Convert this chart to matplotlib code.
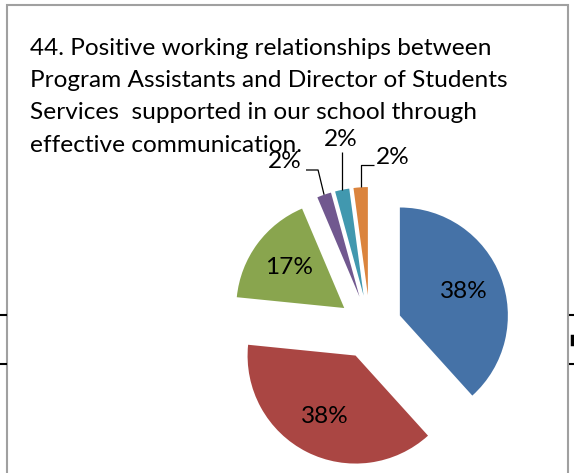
import matplotlib.pyplot as plt
import numpy as np
from matplotlib.patches import Rectangle

# chart text and data
title_lines = [
    "44. Positive working relationships between",
    "Program Assistants and Director of Students",
    "Services  supported in our school through",
    "effective communication.",
]
responses = [18, 18, 8, 1, 1, 1]
colors = ["#4572A7", "#AA4643", "#89A54E", "#71588F", "#4198AF", "#DB843D"]

W, H = 574, 473
plt.rcParams["font.family"] = ["Lato", "DejaVu Sans"]
FS = 17.6


def px(x, y):
    # screen pixel (y down) -> data coords (y up)
    return x, H - y


fig = plt.figure(figsize=(W / 100, H / 100), dpi=100)
ax = fig.add_axes([0, 0, 1, 1])

wedges, texts, autotexts = ax.pie(
    responses, colors=colors, startangle=90, counterclock=False,
    explode=[32] * len(responses), radius=108, center=px(370, 327),
    autopct="%1.0f%%", pctdistance=0.63,
    wedgeprops=dict(linewidth=0), textprops=dict(fontsize=FS, color="black"),
)

# small slices: labels outside with leader lines
small_pos = [(285, 161), (341, 140), (393, 158)]
for w, t, (lx, ly) in zip(wedges[3:], autotexts[3:], small_pos):
    t.set_position(px(lx, ly))
    th = np.deg2rad((w.theta1 + w.theta2) / 2)
    tip = (w.center[0] + w.r * np.cos(th), w.center[1] + w.r * np.sin(th))
    tx, ty = px(lx, ly)
    if tx < tip[0] - 15:
        pts = [(tx + 21, ty - 9), (tip[0] - 6, ty - 9), tip]
    elif tx > tip[0] + 15:
        pts = [(tx - 19, ty - 7), (tip[0], ty - 7), tip]
    else:
        pts = [(tip[0], ty - 12), tip]
    xs, ys = zip(*pts)
    ax.plot(xs, ys, color="black", lw=0.9, solid_capstyle="butt")

for i, line in enumerate(title_lines):
    ax.text(*px(30, 55 + i * 32.2), line, fontsize=FS, ha="left", va="baseline")

# chart frame and bits of the surrounding table
ax.add_patch(Rectangle(px(6.5, 480), 561, 475, fill=False,
                       edgecolor="#A0A0A0", lw=1.5))
for y in (315, 364):
    ax.plot([0, 6], [H - y, H - y], color="black", lw=1.5)
    ax.plot([570, 574], [H - y, H - y], color="black", lw=1.5)
ax.plot([572, 572], [H - 336, H - 344], color="black", lw=2.5)

ax.set_xlim(0, W)
ax.set_ylim(0, H)
ax.set_aspect("auto")
ax.axis("off")

fig.savefig("out.png", dpi=100, facecolor="white")
